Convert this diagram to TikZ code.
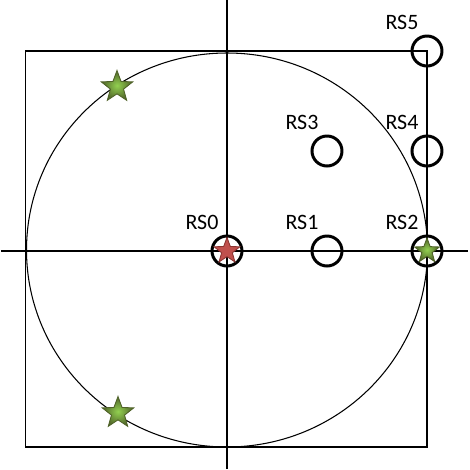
\documentclass[tikz,border=0pt]{standalone}
\usepackage{fontspec}
\setmainfont{Carlito}
\usetikzlibrary{positioning, shapes.geometric}
\definecolor{starRed}{RGB}{192,80,77}
\definecolor{starRedDark}{RGB}{140,52,50}
\definecolor{starGreen}{RGB}{146,208,80}
\definecolor{starGreenDark}{RGB}{79,98,40}
\tikzset{
  % Relay station markers
  rs/.style={
    draw, circle, line width=1.7pt,
    minimum size=0.6cm, inner sep=0pt
  },
  rslabel/.style={
    font=\fontsize{12.5}{14}\selectfont,
    inner sep=1pt, xshift=-0.5cm
  },
  % Thin construction lines
  thinline/.style={line width=0.6pt},
  % Stars
  redstar/.style={
    star, star points=5, star point ratio=2.4,
    inner sep=0pt, minimum size=0.54cm,
    fill=starRed, draw=starRedDark, line width=0.5pt
  },
  greenstar/.style={
    star, star points=5, star point ratio=2.4,
    inner sep=0pt, minimum size=0.52cm,
    draw=starGreenDark, line width=0.5pt,
    inner color=starGreen, outer color=starGreenDark
  },
  greenstarBig/.style={
    greenstar, minimum size=0.66cm
  },
}

\begin{document}
\begin{tikzpicture}[node distance=0.06cm]

  \useasboundingbox (-4.54,-4.38) rectangle (4.86,5.02);

  %% ── Square and circle ──
  \draw[thinline] (-4.03,-3.92) rectangle (4,4);
  \draw[thinline] (0,0.02) ellipse [x radius=4.01, y radius=3.94];

  %% ── Axes ──
  \coordinate (xl) at (-4.52,0);
  \coordinate (xr) at (4.82,0);
  \coordinate (yt) at (0,5.02);
  \coordinate (yb) at (0,-4.36);
  \draw[thinline] (xl) -- (xr);
  \draw[thinline] (yb) -- (yt);

  %% ── Relay stations ──
  \node[rs] (rs0) at (0,0) {};
  \node[rs] (rs1) at (2,0) {};
  \node[rs] (rs2) at (4,0) {};
  \node[rs] (rs3) at (2,2) {};
  \node[rs] (rs4) at (4,2) {};
  \node[rs] (rs5) at (4,4) {};

  \node[rslabel, above=of rs0] (lab0) {RS0};
  \node[rslabel, above=of rs1] (lab1) {RS1};
  \node[rslabel, above=of rs2] (lab2) {RS2};
  \node[rslabel, above=of rs3] (lab3) {RS3};
  \node[rslabel, above=of rs4] (lab4) {RS4};
  \node[rslabel, above=of rs5] (lab5) {RS5};

  %% ── Stars ──
  \node[redstar]   (star0) at (rs0) {};
  \node[greenstar] (star2) at (rs2) {};
  \node[greenstarBig] (starA) at (-2.2,3.28) {};
  \node[greenstarBig] (starB) at (-2.18,-3.24) {};

\end{tikzpicture}
\end{document}
